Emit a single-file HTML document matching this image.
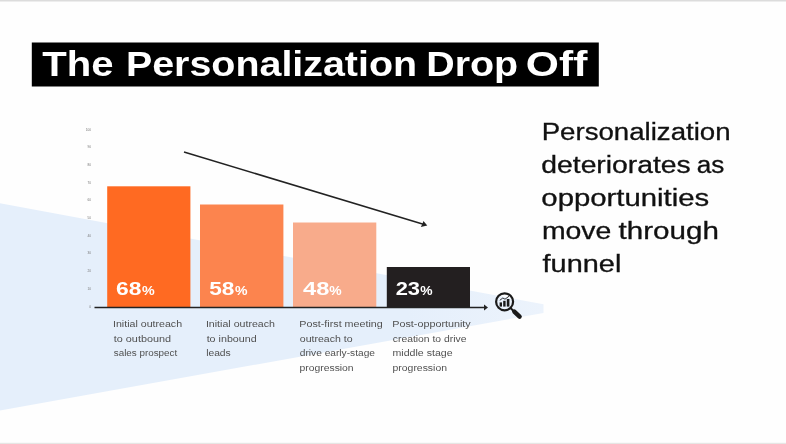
<!DOCTYPE html>
<html><head><meta charset="utf-8"><title>The Personalization Drop Off</title>
<style>
html,body{margin:0;padding:0;background:#fefefe;}
body{width:786px;height:444px;overflow:hidden;position:relative;font-family:"Liberation Sans",sans-serif;}
svg{position:absolute;left:0;top:0;display:block}
text{font-family:"Liberation Sans",sans-serif}
</style></head><body>
<svg width="786" height="444" viewBox="0 0 786 444">
<defs><linearGradient id="wg" x1="0" y1="0" x2="543" y2="0" gradientUnits="userSpaceOnUse"><stop offset="0" stop-color="#e5effb"/><stop offset="0.75" stop-color="#e5effb"/><stop offset="1" stop-color="#ecf3fc"/></linearGradient></defs>
<rect width="786" height="444" fill="#fefefe"/>
<rect x="0" y="0" width="786" height="1.5" fill="#dcdcdc"/>
<rect x="0" y="442.8" width="786" height="1.2" fill="#e6e6e4"/>
<!-- wedge -->
<polygon points="0,203.2 543.5,304.3 543.5,313 0,410.4" fill="url(#wg)"/>
<!-- title box -->
<rect x="31.8" y="42.5" width="567" height="44" fill="#000"/>
<!-- y ticks -->
<g font-size="3.2" fill="#777" text-anchor="end"><text x="91" y="130.8">100</text><text x="91" y="148.3">90</text><text x="91" y="165.9">80</text><text x="91" y="183.5">70</text><text x="91" y="201.3">60</text><text x="91" y="219.20000000000002">50</text><text x="91" y="236.8">40</text><text x="91" y="254.4">30</text><text x="91" y="272.2">20</text><text x="91" y="290.0">10</text><text x="91" y="307.7">0</text></g>
<!-- bars -->
<rect x="107.2" y="186.3" width="83.2" height="120.8" fill="#ff6a22"/>
<rect x="200" y="204.5" width="83.4" height="102.5" fill="#fc844e"/>
<rect x="293" y="222.5" width="83.3" height="84.5" fill="#f8ab8b"/>
<rect x="386.8" y="267" width="83.2" height="40.1" fill="#231f20"/>
<!-- axis -->
<line x1="94.5" y1="307.5" x2="485" y2="307.5" stroke="#222" stroke-width="1.3"/>
<polygon points="484,304.4 488,307.5 484,310.6" fill="#222"/>
<!-- diag arrow -->
<line x1="184" y1="152" x2="425" y2="224.7" stroke="#222" stroke-width="1.5"/>
<polygon points="427.3,225.4 420.8,226.9 422.4,223.9 423.4,221.0" fill="#222"/>
<text x="42.2" y="76.4" font-size="35.5" font-weight="700" fill="#fff" textLength="71.27" lengthAdjust="spacingAndGlyphs">The</text>
<text x="125.95" y="76.4" font-size="35.5" font-weight="700" fill="#fff" textLength="291.12" lengthAdjust="spacingAndGlyphs">Personalization</text>
<text x="426.25" y="76.4" font-size="35.5" font-weight="700" fill="#fff" textLength="91.87" lengthAdjust="spacingAndGlyphs">Drop</text>
<text x="525.85" y="76.4" font-size="35.5" font-weight="700" fill="#fff" textLength="61.51" lengthAdjust="spacingAndGlyphs">Off</text>
<text stroke="#111" stroke-width="0.3" x="541.65" y="139.7" font-size="23.3" font-weight="400" fill="#111" textLength="188.95" lengthAdjust="spacingAndGlyphs">Personalization</text>
<text stroke="#111" stroke-width="0.3" x="541.35" y="172.8" font-size="23.3" font-weight="400" fill="#111" textLength="149.31" lengthAdjust="spacingAndGlyphs">deteriorates</text>
<text stroke="#111" stroke-width="0.3" x="696.8" y="172.8" font-size="23.3" font-weight="400" fill="#111" textLength="27.58" lengthAdjust="spacingAndGlyphs">as</text>
<text stroke="#111" stroke-width="0.3" x="541.35" y="205.8" font-size="23.3" font-weight="400" fill="#111" textLength="167.74" lengthAdjust="spacingAndGlyphs">opportunities</text>
<text stroke="#111" stroke-width="0.3" x="541.9" y="239.0" font-size="23.3" font-weight="400" fill="#111" textLength="69.41" lengthAdjust="spacingAndGlyphs">move</text>
<text stroke="#111" stroke-width="0.3" x="618.5" y="239.0" font-size="23.3" font-weight="400" fill="#111" textLength="100.34" lengthAdjust="spacingAndGlyphs">through</text>
<text stroke="#111" stroke-width="0.3" x="542.6" y="272.1" font-size="23.3" font-weight="400" fill="#111" textLength="78.74" lengthAdjust="spacingAndGlyphs">funnel</text>
<text x="116.05" y="295.2" font-size="18.7" font-weight="700" fill="#fff" textLength="25.44" lengthAdjust="spacingAndGlyphs">68</text>
<text x="141.95" y="295.2" font-size="13.4" font-weight="700" fill="#fff" textLength="12.71" lengthAdjust="spacingAndGlyphs">%</text>
<text x="209.25" y="295.2" font-size="18.7" font-weight="700" fill="#fff" textLength="25.22" lengthAdjust="spacingAndGlyphs">58</text>
<text x="235.05" y="295.2" font-size="13.4" font-weight="700" fill="#fff" textLength="12.55" lengthAdjust="spacingAndGlyphs">%</text>
<text x="303.05" y="295.2" font-size="18.7" font-weight="700" fill="#fff" textLength="26.37" lengthAdjust="spacingAndGlyphs">48</text>
<text x="329.15" y="295.2" font-size="13.4" font-weight="700" fill="#fff" textLength="12.39" lengthAdjust="spacingAndGlyphs">%</text>
<text x="395.65" y="295.2" font-size="18.7" font-weight="700" fill="#fff" textLength="24.43" lengthAdjust="spacingAndGlyphs">23</text>
<text x="420.25" y="295.2" font-size="13.4" font-weight="700" fill="#fff" textLength="12.34" lengthAdjust="spacingAndGlyphs">%</text>
<text x="113.0" y="327.3" font-size="9.7" font-weight="400" fill="#505050" textLength="69.09" lengthAdjust="spacingAndGlyphs">Initial outreach</text>
<text x="113.75" y="341.7" font-size="9.7" font-weight="400" fill="#505050" textLength="57.33" lengthAdjust="spacingAndGlyphs">to outbound</text>
<text x="113.75" y="356.1" font-size="9.7" font-weight="400" fill="#505050" textLength="63.44" lengthAdjust="spacingAndGlyphs">sales prospect</text>
<text x="205.9" y="327.3" font-size="9.7" font-weight="400" fill="#505050" textLength="69.09" lengthAdjust="spacingAndGlyphs">Initial outreach</text>
<text x="206.65" y="341.7" font-size="9.7" font-weight="400" fill="#505050" textLength="50.04" lengthAdjust="spacingAndGlyphs">to inbound</text>
<text x="206.15" y="356.1" font-size="9.7" font-weight="400" fill="#505050" textLength="24.61" lengthAdjust="spacingAndGlyphs">leads</text>
<text x="299.3" y="327.3" font-size="9.7" font-weight="400" fill="#505050" textLength="83.47" lengthAdjust="spacingAndGlyphs">Post-first meeting</text>
<text x="299.8" y="341.7" font-size="9.7" font-weight="400" fill="#505050" textLength="52.87" lengthAdjust="spacingAndGlyphs">outreach to</text>
<text x="299.8" y="356.1" font-size="9.7" font-weight="400" fill="#505050" textLength="75.15" lengthAdjust="spacingAndGlyphs">drive early-stage</text>
<text x="299.55" y="370.5" font-size="9.7" font-weight="400" fill="#505050" textLength="54.08" lengthAdjust="spacingAndGlyphs">progression</text>
<text x="392.3" y="327.3" font-size="9.7" font-weight="400" fill="#505050" textLength="78.43" lengthAdjust="spacingAndGlyphs">Post-opportunity</text>
<text x="392.8" y="341.7" font-size="9.7" font-weight="400" fill="#505050" textLength="73.63" lengthAdjust="spacingAndGlyphs">creation to drive</text>
<text x="392.55" y="356.1" font-size="9.7" font-weight="400" fill="#505050" textLength="60.06" lengthAdjust="spacingAndGlyphs">middle stage</text>
<text x="392.55" y="370.5" font-size="9.7" font-weight="400" fill="#505050" textLength="54.44" lengthAdjust="spacingAndGlyphs">progression</text>
<!-- magnifier -->
<g fill="none" stroke="#1a1a1a">
<circle cx="504.6" cy="301.8" r="8.5" stroke-width="2.2"/>
<line x1="510.5" y1="308" x2="514" y2="311.5" stroke-width="2"/>
<line x1="514.3" y1="311.6" x2="519.6" y2="316.7" stroke-width="4.4" stroke-linecap="round"/>
</g>
<g fill="#1a1a1a"><rect x="499.6" y="302.4" width="2.4" height="4.2"/><rect x="503.2" y="300.8" width="2.4" height="5.8"/><rect x="506.8" y="299" width="2.6" height="7.6"/></g>
<polyline points="499.8,300.3 502.8,298 505,299.2 509.3,296" fill="none" stroke="#1a1a1a" stroke-width="0.9"/>
</svg>
</body></html>
